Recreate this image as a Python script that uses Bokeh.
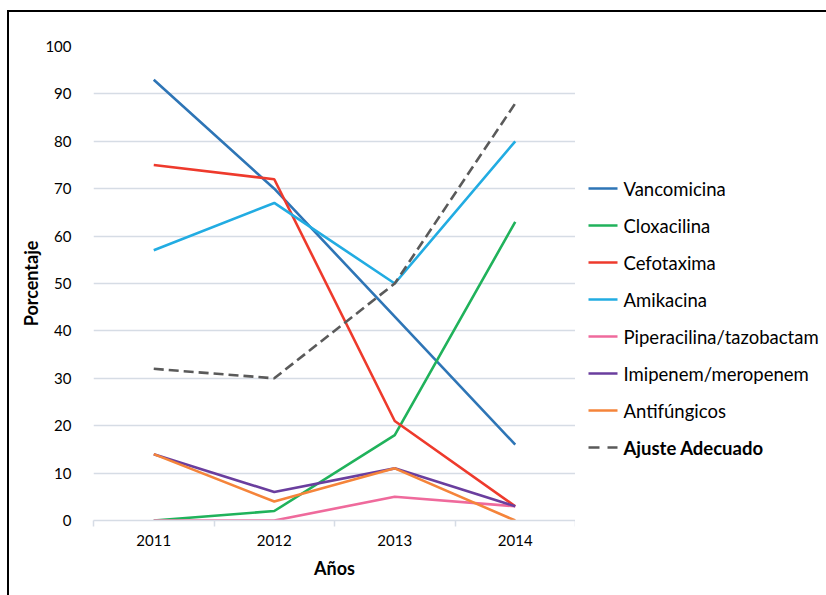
from bokeh.plotting import figure
from bokeh.layouts import row
from bokeh.models import Range1d, FixedTicker
from bokeh.core.properties import value
from bokeh.embed import file_html
from bokeh.resources import INLINE

# Años y porcentajes por antimicrobiano
years = ["2011", "2012", "2013", "2014"]
vancomicina = [93, 70, 43, 16]
cloxacilina = [0, 2, 18, 63]
cefotaxima = [75, 72, 21, 3]
amikacina = [57, 67, 50, 80]
piperacilina = [0, 0, 5, 3]
imipenem = [14, 6, 11, 3]
antifungicos = [14, 4, 11, 0]
ajuste = [32, 30, 50, 88]

series = [
    ("Vancomicina", vancomicina, "#2E75B6"),
    ("Cloxacilina", cloxacilina, "#20B25B"),
    ("Cefotaxima", cefotaxima, "#EE3A2C"),
    ("Amikacina", amikacina, "#22ACE2"),
    ("Piperacilina/tazobactam", piperacilina, "#EF6A9C"),
    ("Imipenem/meropenem", imipenem, "#6A3E9E"),
    ("Antifúngicos", antifungicos, "#F5843A"),
]
AJUSTE_LABEL = "Ajuste Adecuado"
AJUSTE_COLOR = "#5A5A5A"

FONT = "Lato"
GRID = "#D6DCE5"
TEXT = "#000000"
H = 583
LW = 2.6

# each year sits in the middle of its band
xs = [i + 0.5 for i in range(len(years))]

p = figure(width=566, height=H, output_backend="svg", toolbar_location=None,
           x_range=Range1d(0, len(years)), y_range=Range1d(0, 100),
           min_border_left=84, min_border_right=0, min_border_top=34,
           min_border_bottom=75)
p.outline_line_color = None

# x axis: labels centred in each band, ticks on the band edges
xa = p.xaxis[0]
xa.ticker = FixedTicker(ticks=xs, minor_ticks=list(range(len(years) + 1)))
xa.major_label_overrides = {x: y for x, y in zip(xs, years)}
xa.major_tick_out = 0
xa.major_tick_in = 0
xa.minor_tick_out = 6
xa.minor_tick_in = 0
xa.minor_tick_line_color = GRID
xa.minor_tick_line_width = 1.5
xa.axis_line_color = GRID
xa.axis_line_width = 1.5
xa.axis_label = "Años"
xa.axis_label_text_font = FONT
xa.axis_label_text_font_style = "bold"
xa.axis_label_text_font_size = "18px"
xa.axis_label_text_color = TEXT
xa.axis_label_standoff = 8
xa.major_label_text_font = FONT
xa.major_label_text_font_size = "15px"
xa.major_label_text_color = TEXT
xa.major_label_standoff = 8

ya = p.yaxis[0]
ya.ticker = FixedTicker(ticks=list(range(0, 101, 10)))
ya.axis_line_color = None
ya.major_tick_line_color = None
ya.minor_tick_line_color = None
ya.axis_label = "Porcentaje"
ya.axis_label_text_font = FONT
ya.axis_label_text_font_style = "bold"
ya.axis_label_text_font_size = "18px"
ya.axis_label_text_color = TEXT
ya.axis_label_standoff = 0
ya.major_label_text_font = FONT
ya.major_label_text_font_size = "15px"
ya.major_label_text_color = TEXT
ya.major_label_standoff = 16

p.xgrid.grid_line_color = None
p.ygrid.grid_line_color = GRID
p.ygrid.grid_line_width = 1.5

for name, vals, color in series:
    p.line(xs, vals, line_color=color, line_width=LW)
p.line(xs, ajuste, line_color=AJUSTE_COLOR, line_width=LW, line_dash="10 5")

# legend panel to the right of the chart; its frame lines up with the
# chart's frame (46..520 px from the top of the page), so use page pixels
LG_W = 251
FRAME_TOP, FRAME_BOTTOM = 46, 520
lg = figure(width=LG_W, height=H, output_backend="svg", toolbar_location=None,
            x_range=Range1d(0, LG_W), y_range=Range1d(FRAME_BOTTOM, FRAME_TOP),
            min_border_left=0, min_border_right=0,
            min_border_top=0, min_border_bottom=0)
lg.axis.visible = False
lg.grid.visible = False
lg.outline_line_color = None

ROW0, PITCH = 188, 37
SX0, SX1, TX = 13, 42, 48
names = [s[0] for s in series]
colors = [s[2] for s in series]
rows_y = [ROW0 + PITCH * i for i in range(len(series))]

lg.segment(x0=[SX0] * len(series), x1=[SX1] * len(series), y0=rows_y, y1=rows_y,
           line_color=colors, line_width=LW)
lg.text(x=[TX] * len(series), y=rows_y, text=names, text_font=value(FONT),
        text_font_size="18.5px", text_color=TEXT, text_baseline="middle")

y_aj = ROW0 + PITCH * len(series)
lg.segment(x0=[SX0], x1=[SX1], y0=[y_aj], y1=[y_aj], line_color=AJUSTE_COLOR,
           line_width=LW, line_dash="11 8")
lg.text(x=[TX], y=[y_aj], text=[AJUSTE_LABEL], text_font=value(FONT),
        text_font_size="18.5px", text_font_style="bold", text_color=TEXT,
        text_baseline="middle")

layout = row(p, lg)
layout.styles = {"margin-left": "7px", "margin-top": "10px",
                 "border-left": "2px solid #000000", "border-top": "2px solid #000000"}

open("out.html", "w").write(file_html(layout, INLINE))
